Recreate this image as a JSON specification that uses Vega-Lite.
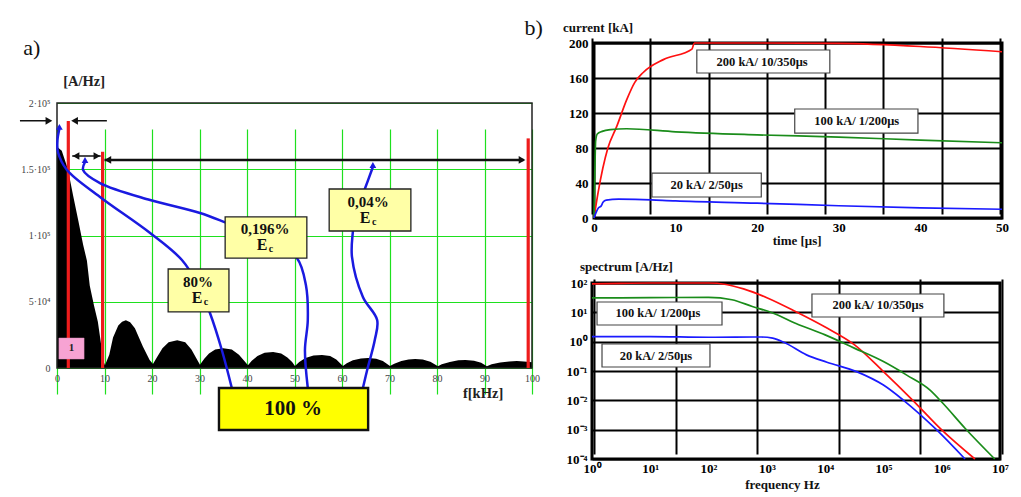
{
"$schema": "https://vega.github.io/schema/vega-lite/v6.json",
"width": 1021, "height": 497, "padding": 0, "autosize": {"type": "none"},
"background": "white",
"config": {"font": "Liberation Serif", "view": {"stroke": null}, "text": {"font": "Liberation Serif"}, "axis": {"labelFont": "Liberation Serif"}},
"resolve": {"scale": {"x": "independent", "y": "independent", "color": "independent", "strokeWidth": "independent", "shape": "independent"}, "axis": {"x": "independent", "y": "independent"}},
"layer": [
{
"layer": [
{"data": {"values": [
{"f":0,"v":167000},{"f":1,"v":164000},{"f":2.3,"v":150000},{"f":3.4,"v":130000},{"f":4.5,"v":111000},{"f":5.5,"v":93000},{"f":6.3,"v":81000},{"f":6.9,"v":62000},{"f":7.8,"v":47000},{"f":8.6,"v":35000},{"f":9.2,"v":20000},{"f":9.7,"v":6000},{"f":10.1,"v":2000},
{"f":11.0,"v":10000},{"f":11.8,"v":23000},{"f":12.9,"v":32000},{"f":13.7,"v":35000},{"f":14.5,"v":36000},{"f":15.4,"v":34500},{"f":16.4,"v":30000},{"f":18.1,"v":16000},{"f":19.5,"v":6000},{"f":20.2,"v":3000},
{"f":21.2,"v":9000},{"f":22.2,"v":15000},{"f":23.5,"v":19500},{"f":25.3,"v":21000},{"f":27,"v":19500},{"f":28.3,"v":14000},{"f":29.3,"v":7500},{"f":30.1,"v":2500},
{"f":31,"v":7000},{"f":32,"v":11000},{"f":33.3,"v":14000},{"f":35,"v":15000},{"f":36.8,"v":14000},{"f":38.3,"v":10000},{"f":39.4,"v":5500},{"f":40.2,"v":2000},
{"f":41,"v":5500},{"f":42.2,"v":9000},{"f":43.7,"v":11500},{"f":45.5,"v":12000},{"f":47.2,"v":11000},{"f":48.5,"v":8000},{"f":49.5,"v":4500},{"f":50.1,"v":1500},
{"f":51,"v":4500},{"f":52.3,"v":7500},{"f":54,"v":9500},{"f":55.8,"v":9800},{"f":57.5,"v":9000},{"f":58.8,"v":6500},{"f":59.6,"v":3500},{"f":60.2,"v":1500},
{"f":61,"v":3500},{"f":62.3,"v":5800},{"f":64,"v":7200},{"f":65.5,"v":7500},{"f":67.2,"v":7000},{"f":68.6,"v":5200},{"f":69.5,"v":3000},{"f":70.1,"v":1500},
{"f":71,"v":3200},{"f":72.5,"v":5200},{"f":74,"v":6500},{"f":75.4,"v":6800},{"f":77,"v":6400},{"f":78.6,"v":4800},{"f":79.5,"v":2800},{"f":80.2,"v":1300},
{"f":81,"v":2800},{"f":82.7,"v":4600},{"f":84.5,"v":5800},{"f":86,"v":6000},{"f":87.8,"v":5500},{"f":89.3,"v":4000},{"f":90.5,"v":1300},
{"f":91.5,"v":2800},{"f":93.3,"v":4200},{"f":95.2,"v":5000},{"f":96.8,"v":5200},{"f":98.3,"v":5000},{"f":99.5,"v":4500},{"f":100,"v":4300}
]},
"mark": {"type": "area", "color": "black", "interpolate": "linear"},
"encoding": {
"x": {"field": "f", "type": "quantitative", "scale": {"domain": [0,100], "range": [57,532], "nice": false, "zero": false},
"axis": {"orient": "bottom", "offset": -129, "values": [0,10,20,30,40,50,60,70,80,90,100], "grid": true, "gridColor": "#1ee01e", "gridWidth": 1.2, "domain": false, "ticks": false, "labelFontSize": 10, "labelColor": "#444", "labelPadding": 5, "labelFlush": false, "labelFont": "Liberation Serif", "title": null}},
"y": {"field": "v", "type": "quantitative", "scale": {"domain": [0,200000], "range": [368,103], "nice": false, "zero": false},
"axis": {"orient": "left", "offset": -57, "values": [0,50000,100000,150000,200000], "grid": true, "gridColor": "#1ee01e", "gridWidth": 1.2, "domain": false, "ticks": false, "labelFontSize": 10, "labelColor": "#444", "labelPadding": 7, "labelFont": "Liberation Serif", "title": null,
"labelExpr": "datum.value == 0 ? '0' : datum.value == 50000 ? '5·10⁴' : datum.value == 100000 ? '1·10⁵' : datum.value == 150000 ? '1.5·10⁵' : '2·10⁵'"}}
}},
{"data": {"values": [{}]},
"mark": {"type": "rect", "fill": "transparent", "stroke": "#222", "strokeWidth": 1.5},
"encoding": {"x": {"datum": 0, "type": "quantitative"}, "x2": {"datum": 100},
"y": {"datum": 0, "type": "quantitative"}, "y2": {"datum": 200000}}},
{"data": {"values": [{"f":2.38,"top":186400},{"f":9.6,"top":163200},{"f":99.2,"top":173300}]},
"mark": {"type": "rule", "color": "#ee1c1c", "strokeWidth": 3.2},
"encoding": {"x": {"field": "f", "type": "quantitative"}, "y": {"field": "top", "type": "quantitative"}, "y2": {"datum": 0}}},
{"data": {"values": [{"f1":-7.8,"f2":-1.5,"v":186600},{"f1":3.8,"f2":10.5,"v":186600},{"f1":3.2,"f2":9.2,"v":160000}]},
"mark": {"type": "rule", "color": "#111", "strokeWidth": 1.5},
"encoding": {"x": {"field": "f1", "type": "quantitative"}, "x2": {"field": "f2"}, "y": {"field": "v", "type": "quantitative"}}},
{"data": {"values": [{"f1":10.0,"f2":98.2,"v":157000}]},
"mark": {"type": "rule", "color": "#111", "strokeWidth": 2.6},
"encoding": {"x": {"field": "f1", "type": "quantitative"}, "x2": {"field": "f2"}, "y": {"field": "v", "type": "quantitative"}}},
{"data": {"values": [{"f":-1.7,"v":186600,"dir":"right"},{"f":3.7,"v":186600,"dir":"left"},{"f":4.0,"v":160000,"dir":"left"},{"f":8.4,"v":160000,"dir":"right"},{"f":10.7,"v":157000,"dir":"left"},{"f":97.9,"v":157000,"dir":"right"}]},
"mark": {"type": "point", "filled": true, "color": "#111", "opacity": 1, "size": 60},
"encoding": {"x": {"field": "f", "type": "quantitative"}, "y": {"field": "v", "type": "quantitative"},
"shape": {"field": "dir", "type": "nominal", "scale": {"domain": ["left","right"], "range": ["triangle-left","triangle-right"]}, "legend": null}}},
{"data": {"values": [
{"c":"a","o":0,"f":0.5,"v":180400},{"c":"a","o":1,"f":0.1,"v":172100},{"c":"a","o":2,"f":0.2,"v":163000},{"c":"a","o":3,"f":2.1,"v":149400},{"c":"a","o":4,"f":9.05,"v":129100},{"c":"a","o":5,"f":19.6,"v":101900},{"c":"a","o":6,"f":26.3,"v":81500},{"c":"a","o":7,"f":29.7,"v":62600},{"c":"a","o":8,"f":32.2,"v":41500},{"c":"a","o":9,"f":34.7,"v":13600},{"c":"a","o":10,"f":36.8,"v":-15100},
{"c":"b","o":0,"f":5.9,"v":155500},{"c":"b","o":1,"f":5.5,"v":149400},{"c":"b","o":2,"f":9.05,"v":139600},{"c":"b","o":3,"f":19.6,"v":126800},{"c":"b","o":4,"f":30.1,"v":117000},{"c":"b","o":5,"f":35.8,"v":109400},{"c":"b","o":6,"f":44.8,"v":96600},{"c":"b","o":7,"f":50.5,"v":83000},{"c":"b","o":8,"f":52.4,"v":62600},{"c":"b","o":9,"f":52.8,"v":36200},{"c":"b","o":10,"f":52.2,"v":13600},{"c":"b","o":11,"f":52.8,"v":-15100},
{"c":"d","o":0,"f":66.5,"v":151700},{"c":"d","o":1,"f":64.8,"v":135100},{"c":"d","o":2,"f":62.7,"v":115500},{"c":"d","o":3,"f":62.3,"v":103400},{"c":"d","o":4,"f":62.1,"v":83800},{"c":"d","o":5,"f":64.4,"v":53600},{"c":"d","o":6,"f":67.4,"v":36200},{"c":"d","o":7,"f":66.9,"v":21100},{"c":"d","o":8,"f":65.3,"v":-1500},{"c":"d","o":9,"f":64.4,"v":-15100}
]},
"mark": {"type": "line", "color": "#1a1ae0", "strokeWidth": 2.5, "interpolate": "catmull-rom"},
"encoding": {"x": {"field": "f", "type": "quantitative"}, "y": {"field": "v", "type": "quantitative"}, "detail": {"field": "c"}, "order": {"field": "o", "type": "quantitative"}}},
{"data": {"values": [{"f":0.5,"v":182000},{"f":5.9,"v":157000},{"f":66.5,"v":153200}]},
"mark": {"type": "point", "shape": "triangle-up", "filled": true, "color": "#1a1ae0", "opacity": 1, "size": 45},
"encoding": {"x": {"field": "f", "type": "quantitative"}, "y": {"field": "v", "type": "quantitative"}}},
{"data": {"values": [{"x1":23.4,"x2":36.2,"y1":74700,"y2":42300},{"x1":35.4,"x2":52.6,"y1":114000,"y2":83000},{"x1":57.3,"x2":74.5,"y1":135100,"y2":103400}]},
"mark": {"type": "rect", "fill": "#ffffa6", "stroke": "#222", "strokeWidth": 1.3},
"encoding": {"x": {"field": "x1", "type": "quantitative"}, "x2": {"field": "x2"}, "y": {"field": "y1", "type": "quantitative"}, "y2": {"field": "y2"}}},
{"data": {"values": [{"x1":34.1,"x2":65.5,"y1":-15100,"y2":-46800}]},
"mark": {"type": "rect", "fill": "#ffff00", "stroke": "#111", "strokeWidth": 2.4},
"encoding": {"x": {"field": "x1", "type": "quantitative"}, "x2": {"field": "x2"}, "y": {"field": "y1", "type": "quantitative"}, "y2": {"field": "y2"}}},
{"data": {"values": [{"x1":0.4,"x2":5.7,"y1":22600,"y2":6800}]},
"mark": {"type": "rect", "fill": "#f7a3d3", "stroke": "#e090c0", "strokeWidth": 0.5},
"encoding": {"x": {"field": "x1", "type": "quantitative"}, "x2": {"field": "x2"}, "y": {"field": "y1", "type": "quantitative"}, "y2": {"field": "y2"}}},
{"data": {"values": [{"label":"80%","f":29.7,"v":64900},{"label":"0,196%","f":43.8,"v":104900},{"label":"0,04%","f":65.5,"v":125300}]},
"mark": {"type": "text", "font": "Liberation Serif", "fontSize": 15, "fontWeight": "bold", "color": "#111"},
"encoding": {"x": {"field": "f", "type": "quantitative"}, "y": {"field": "v", "type": "quantitative"}, "text": {"field": "label"}}},
{"data": {"values": [{"label":"E","f":30.1,"v":52800},{"label":"E","f":43.8,"v":92800},{"label":"E","f":65.5,"v":113200}]},
"mark": {"type": "text", "font": "Liberation Serif", "fontSize": 16, "fontWeight": "bold", "color": "#111", "dx": -3},
"encoding": {"x": {"field": "f", "type": "quantitative"}, "y": {"field": "v", "type": "quantitative"}, "text": {"field": "label"}}},
{"data": {"values": [{"label":"c","f":30.1,"v":52800},{"label":"c","f":43.8,"v":92800},{"label":"c","f":65.5,"v":113200}]},
"mark": {"type": "text", "font": "Liberation Serif", "fontSize": 10, "fontWeight": "bold", "color": "#111", "dx": 6, "dy": 4},
"encoding": {"x": {"field": "f", "type": "quantitative"}, "y": {"field": "v", "type": "quantitative"}, "text": {"field": "label"}}},
{"data": {"values": [{"label":"100 %","f":49.7,"v":-30900}]},
"mark": {"type": "text", "font": "Liberation Serif", "fontSize": 21, "fontWeight": "bold", "color": "#111"},
"encoding": {"x": {"field": "f", "type": "quantitative"}, "y": {"field": "v", "type": "quantitative"}, "text": {"field": "label"}}},
{"data": {"values": [{"label":"1","f":3.05,"v":15100}]},
"mark": {"type": "text", "font": "Liberation Serif", "fontSize": 11, "fontWeight": "bold", "color": "#222"},
"encoding": {"x": {"field": "f", "type": "quantitative"}, "y": {"field": "v", "type": "quantitative"}, "text": {"field": "label"}}},
{"data": {"values": [{"label":"a)","f":-5.3,"v":241500}]},
"mark": {"type": "text", "font": "Liberation Serif", "fontSize": 22, "color": "#111"},
"encoding": {"x": {"field": "f", "type": "quantitative"}, "y": {"field": "v", "type": "quantitative"}, "text": {"field": "label"}}},
{"data": {"values": [{"label":"[A/Hz]","f":5.7,"v":215800},{"label":"f[kHz]","f":89.7,"v":-19500}]},
"mark": {"type": "text", "font": "Liberation Serif", "fontSize": 14.5, "fontWeight": "bold", "color": "#222"},
"encoding": {"x": {"field": "f", "type": "quantitative"}, "y": {"field": "v", "type": "quantitative"}, "text": {"field": "label"}}}
]
},
{
"layer": [
{"data": {"values": [{}]},
"mark": {"type": "rect", "fill": "transparent", "stroke": "#000", "strokeWidth": 3},
"encoding": {"x": {"datum": 0, "type": "quantitative"}, "x2": {"datum": 50},
"y": {"datum": 0, "type": "quantitative"}, "y2": {"datum": 200}}},
{"data": {"values": [
{"s":"r","t":0,"k":0},{"s":"r","t":0.5,"k":29},{"s":"r","t":1.7,"k":80},{"s":"r","t":2.8,"k":105},{"s":"r","t":4,"k":135},{"s":"r","t":5,"k":155},{"s":"r","t":6,"k":166},{"s":"r","t":8.5,"k":181},{"s":"r","t":12,"k":193},{"s":"r","t":12.3,"k":200},{"s":"r","t":20,"k":200},{"s":"r","t":30,"k":199.5},{"s":"r","t":40,"k":196},{"s":"r","t":50,"k":190},
{"s":"g","t":0,"k":0},{"s":"g","t":0.1,"k":50},{"s":"g","t":0.2,"k":88},{"s":"g","t":0.4,"k":96},{"s":"g","t":1,"k":99},{"s":"g","t":2,"k":101},{"s":"g","t":4,"k":102},{"s":"g","t":10,"k":98.5},{"s":"g","t":20,"k":95},{"s":"g","t":30,"k":92.5},{"s":"g","t":40,"k":89},{"s":"g","t":50,"k":86},
{"s":"b","t":0,"k":0},{"s":"b","t":0.2,"k":5},{"s":"b","t":0.5,"k":11},{"s":"b","t":0.9,"k":14},{"s":"b","t":1.1,"k":18},{"s":"b","t":1.5,"k":20.5},{"s":"b","t":3,"k":21.5},{"s":"b","t":6,"k":21},{"s":"b","t":10,"k":19.5},{"s":"b","t":20,"k":17},{"s":"b","t":30,"k":14},{"s":"b","t":40,"k":11.5},{"s":"b","t":50,"k":10}
]},
"mark": {"type": "line", "interpolate": "monotone"},
"encoding": {
"x": {"field": "t", "type": "quantitative", "scale": {"domain": [0,50], "range": [594,1002], "nice": false, "zero": false},
"axis": {"orient": "bottom", "offset": -279, "values": [0,10,20,30,40,50], "grid": true, "gridColor": "#000", "gridWidth": 2, "domain": false, "ticks": false, "labelFontSize": 13, "labelFontWeight": "bold", "labelColor": "#000", "labelPadding": 3, "labelFlush": false, "labelFont": "Liberation Serif", "title": null}},
"y": {"field": "k", "type": "quantitative", "scale": {"domain": [0,200], "range": [218,43], "nice": false, "zero": false},
"axis": {"orient": "left", "offset": -594, "values": [0,40,80,120,160,200], "grid": true, "gridColor": "#000", "gridWidth": 2, "domain": false, "ticks": false, "labelFontSize": 13, "labelFontWeight": "bold", "labelColor": "#000", "labelPadding": 6, "labelFont": "Liberation Serif", "title": null}},
"color": {"field": "s", "type": "nominal", "scale": {"domain": ["r","g","b"], "range": ["#ff1010","#1a8c1a","#1a1aff"]}, "legend": null},
"strokeWidth": {"field": "s", "type": "nominal", "scale": {"domain": ["r","g","b"], "range": [1.7,1.7,3.2]}, "legend": null}
}},
{"data": {"values": [{"t1":12.6,"t2":28.9,"k1":192,"k2":165.7},{"t1":24.6,"t2":39.7,"k1":124.6,"k2":97.1},{"t1":7.1,"t2":20.5,"k1":51.4,"k2":24}]},
"mark": {"type": "rect", "fill": "white", "stroke": "#444", "strokeWidth": 1.2},
"encoding": {"x": {"field": "t1", "type": "quantitative"}, "x2": {"field": "t2"}, "y": {"field": "k1", "type": "quantitative"}, "y2": {"field": "k2"}}},
{"data": {"values": [{"label":"200 kA/ 10/350μs","t":20.6,"k":178.5},{"label":"100 kA/ 1/200μs","t":32.2,"k":110.9},{"label":"20 kA/ 2/50μs","t":13.8,"k":37.7}]},
"mark": {"type": "text", "font": "Liberation Serif", "fontSize": 12.5, "fontWeight": "bold", "color": "#111"},
"encoding": {"x": {"field": "t", "type": "quantitative"}, "y": {"field": "k", "type": "quantitative"}, "text": {"field": "label"}}},
{"data": {"values": [{"label":"b)","t":-7.4,"k":217}]},
"mark": {"type": "text", "font": "Liberation Serif", "fontSize": 22, "color": "#111"},
"encoding": {"x": {"field": "t", "type": "quantitative"}, "y": {"field": "k", "type": "quantitative"}, "text": {"field": "label"}}},
{"data": {"values": [{"label":"current [kA]","t":-3.8,"k":217}]},
"mark": {"type": "text", "font": "Liberation Serif", "fontSize": 13, "fontWeight": "bold", "color": "#111", "align": "left"},
"encoding": {"x": {"field": "t", "type": "quantitative"}, "y": {"field": "k", "type": "quantitative"}, "text": {"field": "label"}}},
{"data": {"values": [{"label":"time [μs]","t":24.9,"k":-26.3}]},
"mark": {"type": "text", "font": "Liberation Serif", "fontSize": 13, "fontWeight": "bold", "color": "#111"},
"encoding": {"x": {"field": "t", "type": "quantitative"}, "y": {"field": "k", "type": "quantitative"}, "text": {"field": "label"}}}
]
},
{
"layer": [
{"data": {"values": [{}]},
"mark": {"type": "rect", "fill": "transparent", "stroke": "#000", "strokeWidth": 3},
"encoding": {"x": {"datum": 1, "type": "quantitative", "scale": {"type": "log", "domain": [1,10000000], "range": [592,1000], "nice": false}}, "x2": {"datum": 10000000},
"y": {"datum": 0.0001, "type": "quantitative", "scale": {"type": "log", "domain": [0.0001,100], "range": [459,283], "nice": false}}, "y2": {"datum": 100}}},
{"data": {"values": [
{"s":"r","f":1,"a":93.3},{"s":"r","f":3.162,"a":97.7},{"s":"r","f":10,"a":100},{"s":"r","f":31.62,"a":100},{"s":"r","f":100,"a":100},{"s":"r","f":199.5,"a":89.1},{"s":"r","f":398.1,"a":63.1},{"s":"r","f":1000,"a":31.6},{"s":"r","f":3162,"a":10.5},{"s":"r","f":10000,"a":3.16},{"s":"r","f":31623,"a":0.794},{"s":"r","f":100000,"a":0.0955},{"s":"r","f":316228,"a":0.0102},{"s":"r","f":1000000,"a":0.00098},{"s":"r","f":3715000,"a":0.0001},
{"s":"g","f":1,"a":30.9},{"s":"g","f":10,"a":31.6},{"s":"g","f":100,"a":32.4},{"s":"g","f":251.2,"a":26.9},{"s":"g","f":562.3,"a":15.8},{"s":"g","f":1259,"a":9.55},{"s":"g","f":3162,"a":4.17},{"s":"g","f":10000,"a":1.7},{"s":"g","f":31623,"a":0.603},{"s":"g","f":100000,"a":0.209},{"s":"g","f":251189,"a":0.0724},{"s":"g","f":630957,"a":0.0224},{"s":"g","f":1047000,"a":0.00794},{"s":"g","f":2512000,"a":0.00112},{"s":"g","f":8128000,"a":0.0001},
{"s":"b","f":1,"a":1.479},{"s":"b","f":10,"a":1.479},{"s":"b","f":100,"a":1.413},{"s":"b","f":794.3,"a":1.445},{"s":"b","f":1259,"a":1.318},{"s":"b","f":1995,"a":0.933},{"s":"b","f":4786,"a":0.355},{"s":"b","f":10715,"a":0.1995},{"s":"b","f":35481,"a":0.0933},{"s":"b","f":100000,"a":0.0331},{"s":"b","f":218776,"a":0.01023},{"s":"b","f":812831,"a":0.001},{"s":"b","f":2512000,"a":0.0001}
]},
"mark": {"type": "line", "interpolate": "monotone"},
"encoding": {
"x": {"field": "f", "type": "quantitative", "scale": {"type": "log", "domain": [1,10000000], "range": [592,1000], "nice": false},
"axis": {"orient": "bottom", "offset": -38, "values": [1,10,100,1000,10000,100000,1000000,10000000], "grid": true, "gridColor": "#000", "gridWidth": 2, "domain": false, "ticks": false, "labelFontSize": 13, "labelFontWeight": "bold", "labelColor": "#000", "labelPadding": 3, "labelFlush": false, "labelFont": "Liberation Serif", "title": null,
"labelExpr": "'10' + ['⁰','¹','²','³','⁴','⁵','⁶','⁷'][round(log(datum.value)/LN10)]"}},
"y": {"field": "a", "type": "quantitative", "scale": {"type": "log", "domain": [0.0001,100], "range": [459,283], "nice": false},
"axis": {"orient": "left", "offset": -592, "values": [0.0001,0.001,0.01,0.1,1,10,100], "grid": true, "gridColor": "#000", "gridWidth": 2, "domain": false, "ticks": false, "labelFontSize": 13, "labelFontWeight": "bold", "labelColor": "#000", "labelPadding": 5, "labelFont": "Liberation Serif", "title": null,
"labelExpr": "'10' + ['⁻⁴','⁻³','⁻²','⁻¹','⁰','¹','²'][round(log(datum.value)/LN10)+4]"}},
"color": {"field": "s", "type": "nominal", "scale": {"domain": ["r","g","b"], "range": ["#ff1010","#1a8c1a","#1a1aff"]}, "legend": null},
"strokeWidth": {"field": "s", "type": "nominal", "scale": {"domain": ["r","g","b"], "range": [1.7,1.7,3.2]}, "legend": null}
}},
{"data": {"values": [{"f1":5940,"f2":1090000,"a1":42.2,"a2":6.93},{"f1":1.22,"f2":170,"a1":22.5,"a2":3.7},{"f1":1.485,"f2":105.7,"a1":0.832,"a2":0.137}]},
"mark": {"type": "rect", "fill": "white", "stroke": "#444", "strokeWidth": 1.2},
"encoding": {"x": {"field": "f1", "type": "quantitative"}, "x2": {"field": "f2"}, "y": {"field": "a1", "type": "quantitative"}, "y2": {"field": "a2"}}},
{"data": {"values": [{"label":"200 kA/ 10/350μs","f":80500,"a":17.8},{"label":"100 kA/ 1/200μs","f":13.5,"a":9.48},{"label":"20 kA/ 2/50μs","f":12.5,"a":0.324}]},
"mark": {"type": "text", "font": "Liberation Serif", "fontSize": 12.5, "fontWeight": "bold", "color": "#111"},
"encoding": {"x": {"field": "f", "type": "quantitative"}, "y": {"field": "a", "type": "quantitative"}, "text": {"field": "label"}}},
{"data": {"values": [{"label":"spectrum [A/Hz]","f":0.622,"a":351}]},
"mark": {"type": "text", "font": "Liberation Serif", "fontSize": 13, "fontWeight": "bold", "color": "#111", "align": "left"},
"encoding": {"x": {"field": "f", "type": "quantitative"}, "y": {"field": "a", "type": "quantitative"}, "text": {"field": "label"}}},
{"data": {"values": [{"label":"frequency Hz","f":1853,"a":0.000013}]},
"mark": {"type": "text", "font": "Liberation Serif", "fontSize": 13, "fontWeight": "bold", "color": "#111"},
"encoding": {"x": {"field": "f", "type": "quantitative"}, "y": {"field": "a", "type": "quantitative"}, "text": {"field": "label"}}}
]
}
]
}
